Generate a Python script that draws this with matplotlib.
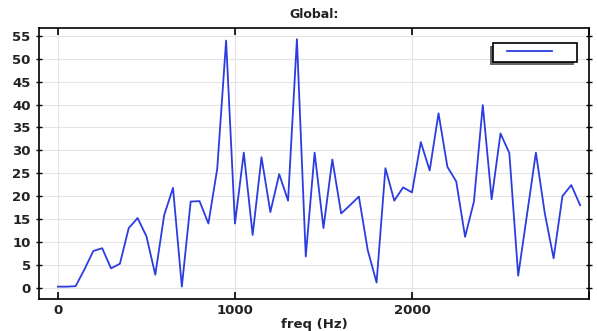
import numpy as np
import matplotlib.pyplot as plt
from matplotlib.patches import Rectangle
from matplotlib.legend_handler import HandlerLine2D

# Data
freq = np.arange(0, 3000, 50)
values = [0.2, 0.2, 0.3, 4.0, 8.0, 8.6, 4.2, 5.2, 13.0, 15.2,
          11.2, 2.8, 15.8, 21.8, 0.2, 18.8, 18.9, 14.0, 26.0, 54.0,
          14.0, 29.5, 11.5, 28.5, 16.5, 24.8, 19.0, 54.3, 6.8, 29.5,
          13.0, 28.0, 16.2, 18.0, 19.9, 8.2, 1.1, 26.1, 19.0, 21.9,
          20.8, 31.8, 25.6, 38.1, 26.4, 23.2, 11.1, 18.8, 39.9, 19.3,
          33.7, 29.4, 2.6, 16.0, 29.5, 16.3, 6.4, 20.0, 22.4, 18.0]
yticks = np.arange(0, 60, 5)
xticks = [0, 1000, 2000, 3000]
xticklabels = ['0', '1000', '2000', '']

fig = plt.figure(figsize=(5.97, 3.31), dpi=100)
ax = fig.add_axes([0.0653, 0.0967, 0.9213, 0.8187])

line, = ax.plot(freq, values, color='#2b3de0', lw=1.3, label=' ')

ax.set_xlim(-107, 3000)
ax.set_ylim(-2.5, 56.75)
ax.set_xticks(xticks)
ax.set_xticklabels(xticklabels)
ax.set_yticks(yticks)
ax.grid(True, color='#e4e4e4', lw=0.8)
ax.set_axisbelow(True)

ax.tick_params(axis='x', direction='in', top=True, length=5, width=1.2, labelsize=9.5)
ax.tick_params(axis='y', direction='inout', length=5, width=1.0, labelsize=9.5)
ax.tick_params(axis='y', which='both', right=True)
for lab in ax.get_xticklabels() + ax.get_yticklabels():
    lab.set_fontweight('bold')
    lab.set_color('#222222')
for s in ax.spines.values():
    s.set_linewidth(1.2)

ax.set_title('Global:', fontsize=9, fontweight='bold', color='#222222', pad=7)
ax.set_xlabel('freq (Hz)', fontsize=9.5, fontweight='bold', color='#222222', labelpad=1)

# legend box (empty label), line sample inset from the left
leg = ax.legend(loc='upper right', bbox_to_anchor=(0.978, 0.945), borderaxespad=0,
                frameon=True, fancybox=False, fontsize=8, borderpad=0.4,
                handlelength=4.9, handletextpad=1.55,
                handler_map={line: HandlerLine2D(xpad=0.86)})
leg.get_frame().set_edgecolor('black')
leg.get_frame().set_linewidth(1.2)
leg.get_frame().set_alpha(1)
leg.set_zorder(5)

# shadow to the lower left of the legend box
fig.canvas.draw()
bb = leg.get_window_extent()
ax.add_artist(Rectangle((bb.x0 - 3, bb.y0 - 3), bb.width, bb.height,
                        transform=None, facecolor='#666666',
                        edgecolor='none', zorder=4))

fig.savefig('out.png', dpi=100)
